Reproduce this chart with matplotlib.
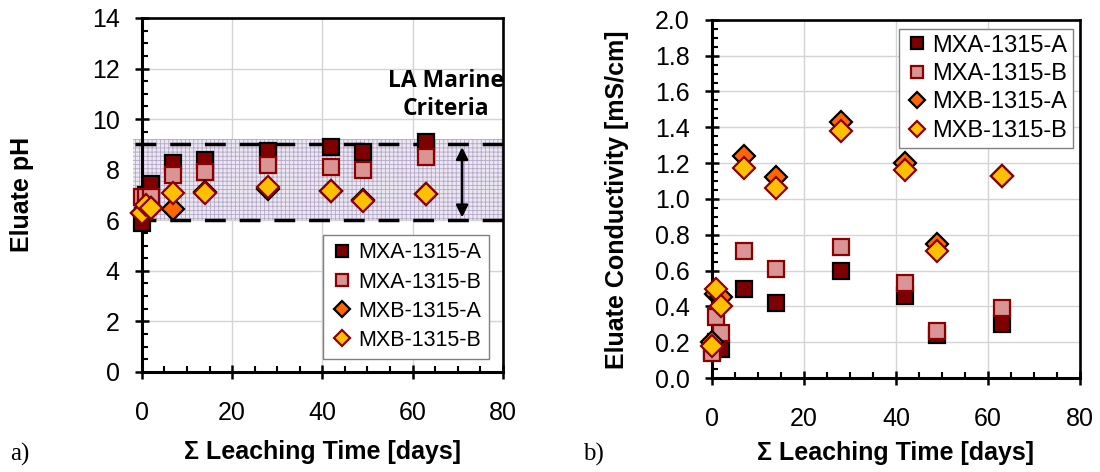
import numpy as np
import matplotlib
matplotlib.use("Agg")
import matplotlib.pyplot as plt
from matplotlib.ticker import MultipleLocator, FormatStrFormatter

plt.rcParams["font.family"] = ["Liberation Sans", "DejaVu Sans"]
plt.rcParams["hatch.linewidth"] = 0.6

# cumulative leaching time (days)
days = [0.08, 1, 2, 7, 14, 28, 42, 49, 63]
series = ["MXA-1315-A", "MXA-1315-B", "MXB-1315-A", "MXB-1315-B"]

ph_mxa_a = [5.9, 7.0, 7.45, 8.25, 8.4, 8.75, 8.9, 8.7, 9.1]
ph_mxa_b = [6.9, 6.9, 6.9, 7.8, 7.9, 8.2, 8.1, 8.0, 8.5]
ph_mxb_a = [6.3, 6.5, 6.5, 6.45, 7.1, 7.25, 7.15, 6.8, 7.05]
ph_mxb_b = [6.3, 6.6, 6.5, 7.07, 7.07, 7.3, 7.15, 6.75, 7.05]

ec_mxa_a = [0.15, 0.20, 0.16, 0.50, 0.42, 0.60, 0.46, 0.24, 0.30]
ec_mxa_b = [0.14, 0.34, 0.25, 0.71, 0.61, 0.73, 0.53, 0.26, 0.39]
ec_mxb_a = [0.20, 0.47, 0.45, 1.24, 1.12, 1.43, 1.20, 0.75, 1.13]
ec_mxb_b = [0.18, 0.50, 0.40, 1.17, 1.06, 1.38, 1.16, 0.71, 1.13]

criteria_low, criteria_high = 6, 9
band_top = 9.2

styles = [
    dict(marker="s", mfc="#7F0000", mec="black"),
    dict(marker="s", mfc="#D99594", mec="#8B0000"),
    dict(marker="D", mfc="#FF6600", mec="black"),
    dict(marker="D", mfc="#FFC000", mec="#8B0000"),
]

fig = plt.figure(figsize=(11, 4.72), dpi=100)
ax1 = fig.add_axes([0.129, 0.212, 0.328, 0.750])
ax2 = fig.add_axes([0.647, 0.199, 0.335, 0.759])


def style_axes(ax, ymax, ymaj, ymin_step):
    ax.set_xlim(0, 80)
    ax.set_ylim(0, ymax)
    ax.xaxis.set_major_locator(MultipleLocator(20))
    ax.xaxis.set_minor_locator(MultipleLocator(5))
    ax.yaxis.set_major_locator(MultipleLocator(ymaj))
    ax.yaxis.set_minor_locator(MultipleLocator(ymin_step))
    ax.grid(True, which="major", color="#D4D4D4", lw=1.0)
    ax.set_axisbelow(True)
    for s in ["left", "bottom"]:
        ax.spines[s].set_linewidth(2.2)
    for s in ["top", "right"]:
        ax.spines[s].set_linewidth(1.9)
    ax.tick_params(which="major", direction="inout", length=10, width=1.8,
                   labelsize=18)
    ax.tick_params(axis="y", which="major", pad=11)
    ax.tick_params(axis="x", which="major", pad=16)
    ax.tick_params(which="minor", direction="in", length=4, width=1.5)


def draw_series(ax, data, sq, dm):
    for vals, lab, st in zip(data, series, styles):
        ms = sq if st["marker"] == "s" else dm
        ax.plot(days, vals, ls="none", ms=ms, mew=1.6, label=lab, zorder=3,
                clip_on=False, **st)


# ---- a) pH ----
style_axes(ax1, 14, 2, 0.5)
ax1.fill_between([-2, 80], criteria_low, band_top, facecolor="#ECE8F2",
                 edgecolor="#B4A8C8", hatch="++++", lw=0, clip_on=False, zorder=1)
for yv in (criteria_low, criteria_high):
    ax1.plot([-1.5, 80], [yv, yv], color="black", lw=2.5, dashes=(6, 4),
             clip_on=False, zorder=2)
draw_series(ax1, [ph_mxa_a, ph_mxa_b, ph_mxb_a, ph_mxb_b], 12, 11.5)
ax1.annotate("", xy=(71, criteria_low), xytext=(71, criteria_high),
             arrowprops=dict(arrowstyle="<|-|>", color="black", lw=1.8,
                             mutation_scale=18), zorder=4)
ax1.text(67.5, 10.95, "LA Marine\nCriteria", ha="center", va="center",
         fontsize=16.5, fontweight="bold", family=["Open Sans", "DejaVu Sans"],
         linespacing=1.25)
ax1.set_ylabel("Eluate pH", fontsize=18, fontweight="bold")
ax1.yaxis.set_label_coords(-0.30, 0.5)
ax1.set_xlabel("\u03a3 Leaching Time [days]", fontsize=18, fontweight="bold")
ax1.xaxis.set_label_coords(0.5, -0.192)
leg1 = ax1.legend(loc="upper right", bbox_to_anchor=(0.961, 0.387), fontsize=15.5,
                  markerscale=0.68, handlelength=1.1, handletextpad=0.2,
                  borderpad=0.35, labelspacing=0.38, borderaxespad=0,
                  fancybox=False, framealpha=1, edgecolor="#808080")
leg1.get_frame().set_linewidth(1.0)
leg1.set_zorder(5)

# ---- b) conductivity ----
style_axes(ax2, 2.0, 0.2, 0.05)
ax2.yaxis.set_major_formatter(FormatStrFormatter("%.1f"))
draw_series(ax2, [ec_mxa_a, ec_mxa_b, ec_mxb_a, ec_mxb_b], 12, 11.5)
ax2.set_ylabel("Eluate Conductivity [mS/cm]", fontsize=18, fontweight="bold")
ax2.yaxis.set_label_coords(-0.225, 0.497)
ax2.set_xlabel("\u03a3 Leaching Time [days]", fontsize=18, fontweight="bold")
ax2.xaxis.set_label_coords(0.5, -0.176)
leg2 = ax2.legend(loc="upper right", bbox_to_anchor=(0.981, 0.975), fontsize=17,
                  markerscale=0.75, handlelength=1.0, handletextpad=0.15,
                  borderpad=0.25, labelspacing=0.27, borderaxespad=0,
                  fancybox=False, framealpha=1, edgecolor="#808080")
leg2.get_frame().set_linewidth(1.0)

fig.text(0.009, 0.025, "a)", fontsize=18, family=["Liberation Serif", "DejaVu Serif"])
fig.text(0.530, 0.025, "b)", fontsize=18, family=["Liberation Serif", "DejaVu Serif"])

fig.savefig("out.png", dpi=100)
